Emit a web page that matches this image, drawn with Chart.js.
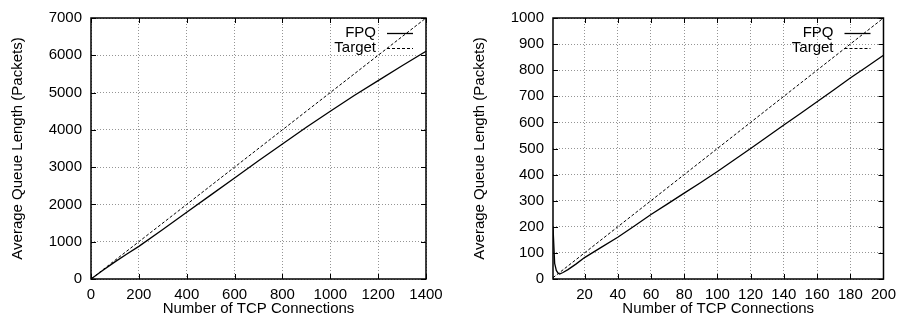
<!DOCTYPE html>
<html>
<head>
<meta charset="utf-8">
<script src="https://cdn.jsdelivr.net/npm/chart.js@4.4.1/dist/chart.umd.min.js"></script>
<style>
  html, body { margin: 0; padding: 0; background: #fff; }
  #c1 { position: absolute; left: 0; top: 0; }
  #c2 { position: absolute; left: 460px; top: 0; }
</style>
</head>
<body>
<canvas id="c1" width="460" height="320"></canvas>
<canvas id="c2" width="443" height="320"></canvas>
<script>
// ---------- DATA ----------
const seriesNames = ['FPQ', 'Target'];
const xTitle = 'Number of TCP Connections';
const yTitle = 'Average Queue Length (Packets)';

// Left plot
const leftX = [0, 50, 100, 150, 200, 300, 400, 500, 600, 700, 800, 900, 1000, 1100, 1200, 1300, 1400];
const leftFPQ = [0, 235, 460, 670, 875, 1330, 1790, 2250, 2710, 3170, 3620, 4070, 4500, 4920, 5320, 5720, 6110];
const leftTargetX = [0, 200, 400, 600, 800, 1000, 1200, 1400];
const leftTarget = [0, 1000, 2000, 3000, 4000, 5000, 6000, 7000];
const leftXTicks = [0, 200, 400, 600, 800, 1000, 1200, 1400];
const leftYTicks = [0, 1000, 2000, 3000, 4000, 5000, 6000, 7000];

// Right plot
const rightX = [1, 2, 3, 4, 5, 7, 10, 15, 20, 30, 40, 50, 60, 70, 80, 90, 100, 110, 120, 130, 140, 150, 160, 170, 180, 190, 200];
const rightFPQ = [200, 60, 33, 23, 19, 25, 36, 58, 82, 121, 160, 203, 247, 288, 329, 370, 412, 456, 500, 545, 590, 634, 679, 724, 770, 813, 857];
const rightTargetX = [1, 20, 40, 60, 80, 100, 120, 140, 160, 180, 200];
const rightTarget = [5, 100, 200, 300, 400, 500, 600, 700, 800, 900, 1000];
const rightXTicks = [20, 40, 60, 80, 100, 120, 140, 160, 180, 200];
const rightYTicks = [0, 100, 200, 300, 400, 500, 600, 700, 800, 900, 1000];

// ---------- RENDER ----------
const FONT = '"Liberation Sans", Arial, Helvetica, sans-serif';
const FS = 15;

const framePlugin = {
  id: 'frame',
  afterDraw(chart) {
    const {ctx, chartArea: a} = chart;
    ctx.save();
    ctx.strokeStyle = '#000';
    ctx.lineWidth = 1.5;
    ctx.setLineDash([]);
    ctx.strokeRect(a.left, a.top, a.right - a.left, a.bottom - a.top);
    ctx.lineWidth = 1;
    const tl = 5;
    ctx.beginPath();
    chart.scales.x.ticks.forEach(t => {
      const px = Math.round(chart.scales.x.getPixelForValue(t.value)) + 0.5;
      ctx.moveTo(px, a.bottom); ctx.lineTo(px, a.bottom - tl);
      ctx.moveTo(px, a.top); ctx.lineTo(px, a.top + tl);
    });
    chart.scales.y.ticks.forEach(t => {
      const py = Math.round(chart.scales.y.getPixelForValue(t.value)) + 0.5;
      ctx.moveTo(a.left, py); ctx.lineTo(a.left + tl, py);
      ctx.moveTo(a.right, py); ctx.lineTo(a.right - tl, py);
    });
    ctx.stroke();
    // legend
    ctx.font = FS + 'px ' + FONT;
    ctx.fillStyle = '#000';
    ctx.textAlign = 'right';
    ctx.textBaseline = 'middle';
    chart.data.datasets.forEach((ds, i) => {
      const y = a.top + 15 + i * 15;
      ctx.fillText(ds.label, a.right - 50, y);
      ctx.save();
      ctx.strokeStyle = ds.borderColor;
      ctx.lineWidth = ds.borderWidth;
      ctx.setLineDash(ds.borderDash || []);
      ctx.beginPath();
      ctx.moveTo(a.right - 39, Math.round(y) + 0.5);
      ctx.lineTo(a.right - 13, Math.round(y) + 0.5);
      ctx.stroke();
      ctx.restore();
    });
    ctx.restore();
  }
};

function pts(xs, ys) { return xs.map((x, i) => ({x: x, y: ys[i]})); }

function makeChart(id, cfg) {
  return new Chart(document.getElementById(id), {
    type: 'line',
    data: {
      datasets: [
        { label: seriesNames[0], data: pts(cfg.fx, cfg.fy), borderColor: '#000', borderWidth: 1.3,
          pointRadius: 0, tension: 0, fill: false },
        { label: seriesNames[1], data: pts(cfg.tx, cfg.ty), borderColor: '#000', borderWidth: 1,
          borderDash: [3, 2], pointRadius: 0, tension: 0, fill: false }
      ]
    },
    options: {
      responsive: false,
      animation: false,
      devicePixelRatio: 1,
      layout: { padding: { left: 0, top: 13, right: cfg.padRight, bottom: 0 } },
      plugins: { legend: { display: false }, tooltip: { enabled: false } },
      scales: {
        x: {
          type: 'linear', min: cfg.xmin, max: cfg.xmax,
          afterBuildTicks: s => { s.ticks = cfg.xticks.map(v => ({value: v})); },
          afterFit: s => { s.height = 41; },
          grid: { color: '#959595', lineWidth: 1, drawTicks: false },
          border: { display: false, dash: [1, 2] },
          ticks: { color: '#000', padding: 7, font: { family: FONT, size: FS }, maxRotation: 0, autoSkip: false,
                   callback: v => String(v) },
          title: { display: true, text: xTitle, color: '#000', font: { family: FONT, size: FS },
                   padding: { top: 0, bottom: 2 } }
        },
        y: {
          type: 'linear', min: cfg.ymin, max: cfg.ymax,
          afterBuildTicks: s => { s.ticks = cfg.yticks.map(v => ({value: v})); },
          afterFit: s => { s.width = cfg.yWidth; },
          grid: { color: '#959595', lineWidth: 1, drawTicks: false },
          border: { display: false, dash: [1, 2] },
          ticks: { color: '#000', padding: 9, font: { family: FONT, size: FS }, autoSkip: false,
                   callback: v => String(v) },
          title: { display: true, text: yTitle, color: '#000', font: { family: FONT, size: FS },
                   padding: { top: cfg.yTitlePad, bottom: 0 } }
        }
      }
    },
    plugins: [framePlugin]
  });
}

makeChart('c1', {
  fx: leftX, fy: leftFPQ, tx: leftTargetX, ty: leftTarget,
  xmin: 0, xmax: 1400, ymin: 0, ymax: 7000,
  xticks: leftXTicks, yticks: leftYTicks,
  padRight: 34, yWidth: 91, yTitlePad: 9
});
makeChart('c2', {
  fx: rightX, fy: rightFPQ, tx: rightTargetX, ty: rightTarget,
  xmin: 1, xmax: 200, ymin: 0, ymax: 1000,
  xticks: rightXTicks, yticks: rightYTicks,
  padRight: 15, yWidth: 93, yTitlePad: 11
});
</script>
</body>
</html>
